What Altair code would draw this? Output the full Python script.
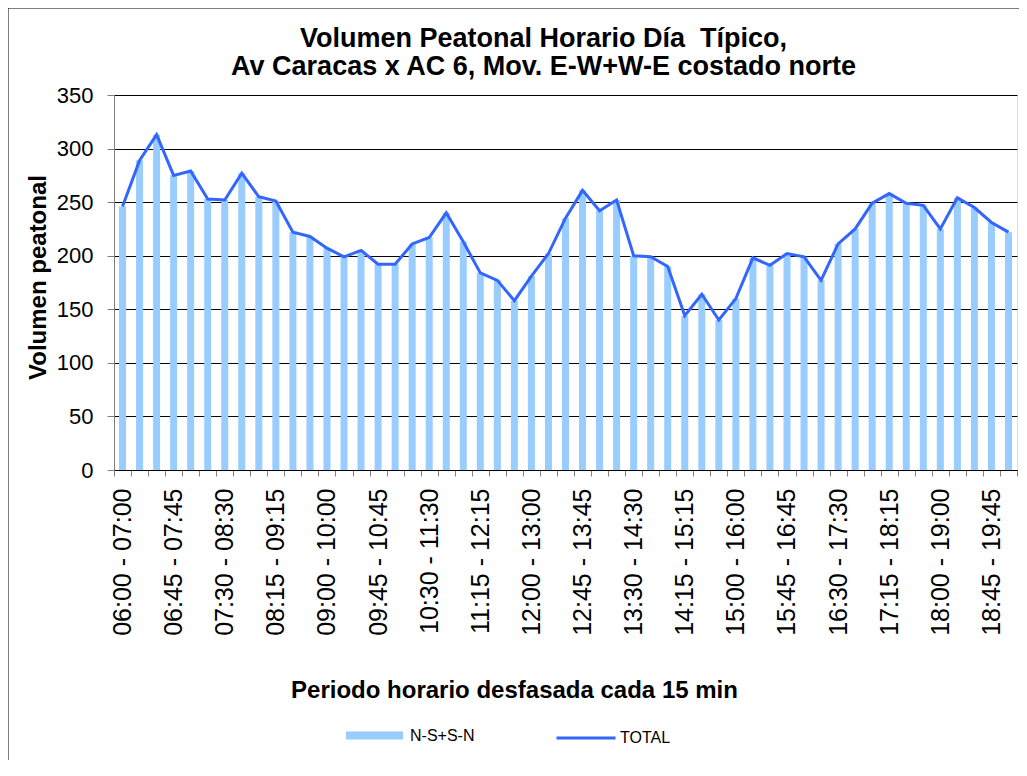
import json
import altair as alt
import pandas as pd

periodos = [
    "06:00 - 07:00", "06:15 - 07:15", "06:30 - 07:30", "06:45 - 07:45",
    "07:00 - 08:00", "07:15 - 08:15", "07:30 - 08:30", "07:45 - 08:45",
    "08:00 - 09:00", "08:15 - 09:15", "08:30 - 09:30", "08:45 - 09:45",
    "09:00 - 10:00", "09:15 - 10:15", "09:30 - 10:30", "09:45 - 10:45",
    "10:00 - 11:00", "10:15 - 11:15", "10:30 - 11:30", "10:45 - 11:45",
    "11:00 - 12:00", "11:15 - 12:15", "11:30 - 12:30", "11:45 - 12:45",
    "12:00 - 13:00", "12:15 - 13:15", "12:30 - 13:30", "12:45 - 13:45",
    "13:00 - 14:00", "13:15 - 14:15", "13:30 - 14:30", "13:45 - 14:45",
    "14:00 - 15:00", "14:15 - 15:15", "14:30 - 15:30", "14:45 - 15:45",
    "15:00 - 16:00", "15:15 - 16:15", "15:30 - 16:30", "15:45 - 16:45",
    "16:00 - 17:00", "16:15 - 17:15", "16:30 - 17:30", "16:45 - 17:45",
    "17:00 - 18:00", "17:15 - 18:15", "17:30 - 18:30", "17:45 - 18:45",
    "18:00 - 19:00", "18:15 - 19:15", "18:30 - 19:30", "18:45 - 19:45",
    "19:00 - 20:00",
]

ns_sn = [246, 289, 313, 275, 279, 253, 252, 277, 255, 251,
         222, 218, 207, 199, 205, 192, 192, 211, 217, 240,
         213, 184, 177, 158, 181, 202, 235, 261, 242, 252,
         200, 199, 190, 144, 164, 140, 160, 198, 191, 202,
         199, 177, 211, 225, 249, 258, 249, 247, 225, 254,
         245, 231, 222]

total = [246, 289, 313, 275, 279, 253, 252, 277, 255, 251,
         222, 218, 207, 199, 205, 192, 192, 211, 217, 240,
         213, 184, 177, 158, 181, 202, 235, 261, 242, 252,
         200, 199, 190, 144, 164, 140, 160, 198, 191, 202,
         199, 177, 211, 225, 249, 258, 249, 247, 225, 254,
         245, 231, 222]

etiquetas_visibles = [
    "06:00 - 07:00", "06:45 - 07:45", "07:30 - 08:30", "08:15 - 09:15",
    "09:00 - 10:00", "09:45 - 10:45", "10:30 - 11:30", "11:15 - 12:15",
    "12:00 - 13:00", "12:45 - 13:45", "13:30 - 14:30", "14:15 - 15:15",
    "15:00 - 16:00", "15:45 - 16:45", "16:30 - 17:30", "17:15 - 18:15",
    "18:00 - 19:00", "18:45 - 19:45",
]

y_ticks = [0, 50, 100, 150, 200, 250, 300, 350]

titulo = ["Volumen Peatonal Horario Día\u00a0 Típico,",
          "Av Caracas x AC 6, Mov. E-W+W-E costado norte"]
serie_barras = "N-S+S-N"
serie_linea = "TOTAL"

df = pd.DataFrame({
    "periodo": periodos,
    "ns": ns_sn,
    "total": total,
    "s1": serie_barras,
    "s2": serie_linea,
})

FONT = "Liberation Sans"
label_expr = "indexof(" + json.dumps(etiquetas_visibles) + ", datum.value) >= 0 ? datum.value : ''"

x_enc = alt.X(
    "periodo:N", sort=periodos,
    scale=alt.Scale(paddingInner=0, paddingOuter=0),
    axis=alt.Axis(
        title="Periodo horario desfasada cada 15 min",
        labelAngle=270, labelAlign="right", labelBaseline="middle",
        labelFontSize=25, labelFont=FONT, labelColor="#000",
        labelPadding=12, labelExpr=label_expr, labelOverlap=False, labelLimit=400,
        tickBand="extent", tickSize=6, tickColor="#808080",
        domainColor="#000", domainWidth=1,
        titleFont=FONT, titleFontSize=24, titleFontWeight="bold", titleColor="#000",
        titleX=400, titleY=227, titleAlign="center", titleBaseline="alphabetic",
    ),
)

y_axis = alt.Axis(
    values=y_ticks, title="Volumen peatonal", grid=True,
    gridColor="#000", gridWidth=1, domainColor="#808080", tickColor="#808080",
    tickSize=7, labelFont=FONT, labelFontSize=22, labelColor="#000", labelPadding=14,
    titleFont=FONT, titleFontSize=24, titleFontWeight="bold", titleColor="#000",
    titleX=-76, titleY=182, titleAngle=270, titleAlign="center", titleBaseline="middle",
)
y_scale = alt.Scale(domain=[0, 350], nice=False)

bars = alt.Chart(df).mark_bar(size=7).encode(
    x=x_enc,
    y=alt.Y("ns:Q", scale=y_scale, axis=y_axis),
    fill=alt.Fill("s1:N", scale=alt.Scale(domain=[serie_barras], range=["#99CCFF"]),
                  legend=alt.Legend(title=None, orient="none", legendX=232, legendY=612,
                                    symbolType="M-1,-0.14L1,-0.14L1,0.14L-1,0.14Z",
                                    symbolSize=3249, symbolStrokeWidth=0,
                                    labelFont=FONT, labelFontSize=16, labelColor="#000",
                                    labelOffset=7, padding=0)),
)

line = alt.Chart(df).mark_line(strokeWidth=3).encode(
    x=x_enc,
    y=alt.Y("total:Q", scale=y_scale, axis=y_axis),
    stroke=alt.Stroke("s2:N", scale=alt.Scale(domain=[serie_linea], range=["#3366FF"]),
                      legend=alt.Legend(title=None, orient="none", legendX=441, legendY=612,
                                        symbolType="stroke", symbolSize=3481,
                                        symbolStrokeWidth=3,
                                        labelFont=FONT, labelFontSize=16, labelColor="#000",
                                        labelOffset=3, padding=0)),
)

marco = pd.DataFrame({"k": [0]})
borde_izq = alt.Chart(marco).mark_rule(color="#000", strokeWidth=1).encode(
    x=alt.value(-106), y=alt.value(-87), y2=alt.value(670))
borde_sup = alt.Chart(marco).mark_rule(color="#000", strokeWidth=1).encode(
    x=alt.value(-106), x2=alt.value(905), y=alt.value(-87))

chart = alt.layer(bars, line, borde_izq, borde_sup).resolve_scale(
    fill="independent", stroke="independent"
).properties(
    width=903, height=375,
    autosize=alt.AutoSizeParams(type="none"),
    padding={"left": 106, "top": 87, "right": 2, "bottom": 290},
    title=alt.Title(titulo, font=FONT, fontSize=27, fontWeight="bold", color="#000",
                    anchor="middle", dx=-22, lineHeight=28, offset=-73),
).configure_view(strokeWidth=0).configure(font=FONT, background="white")

chart.save("out.html", embed_options={"renderer": "svg", "actions": False})
